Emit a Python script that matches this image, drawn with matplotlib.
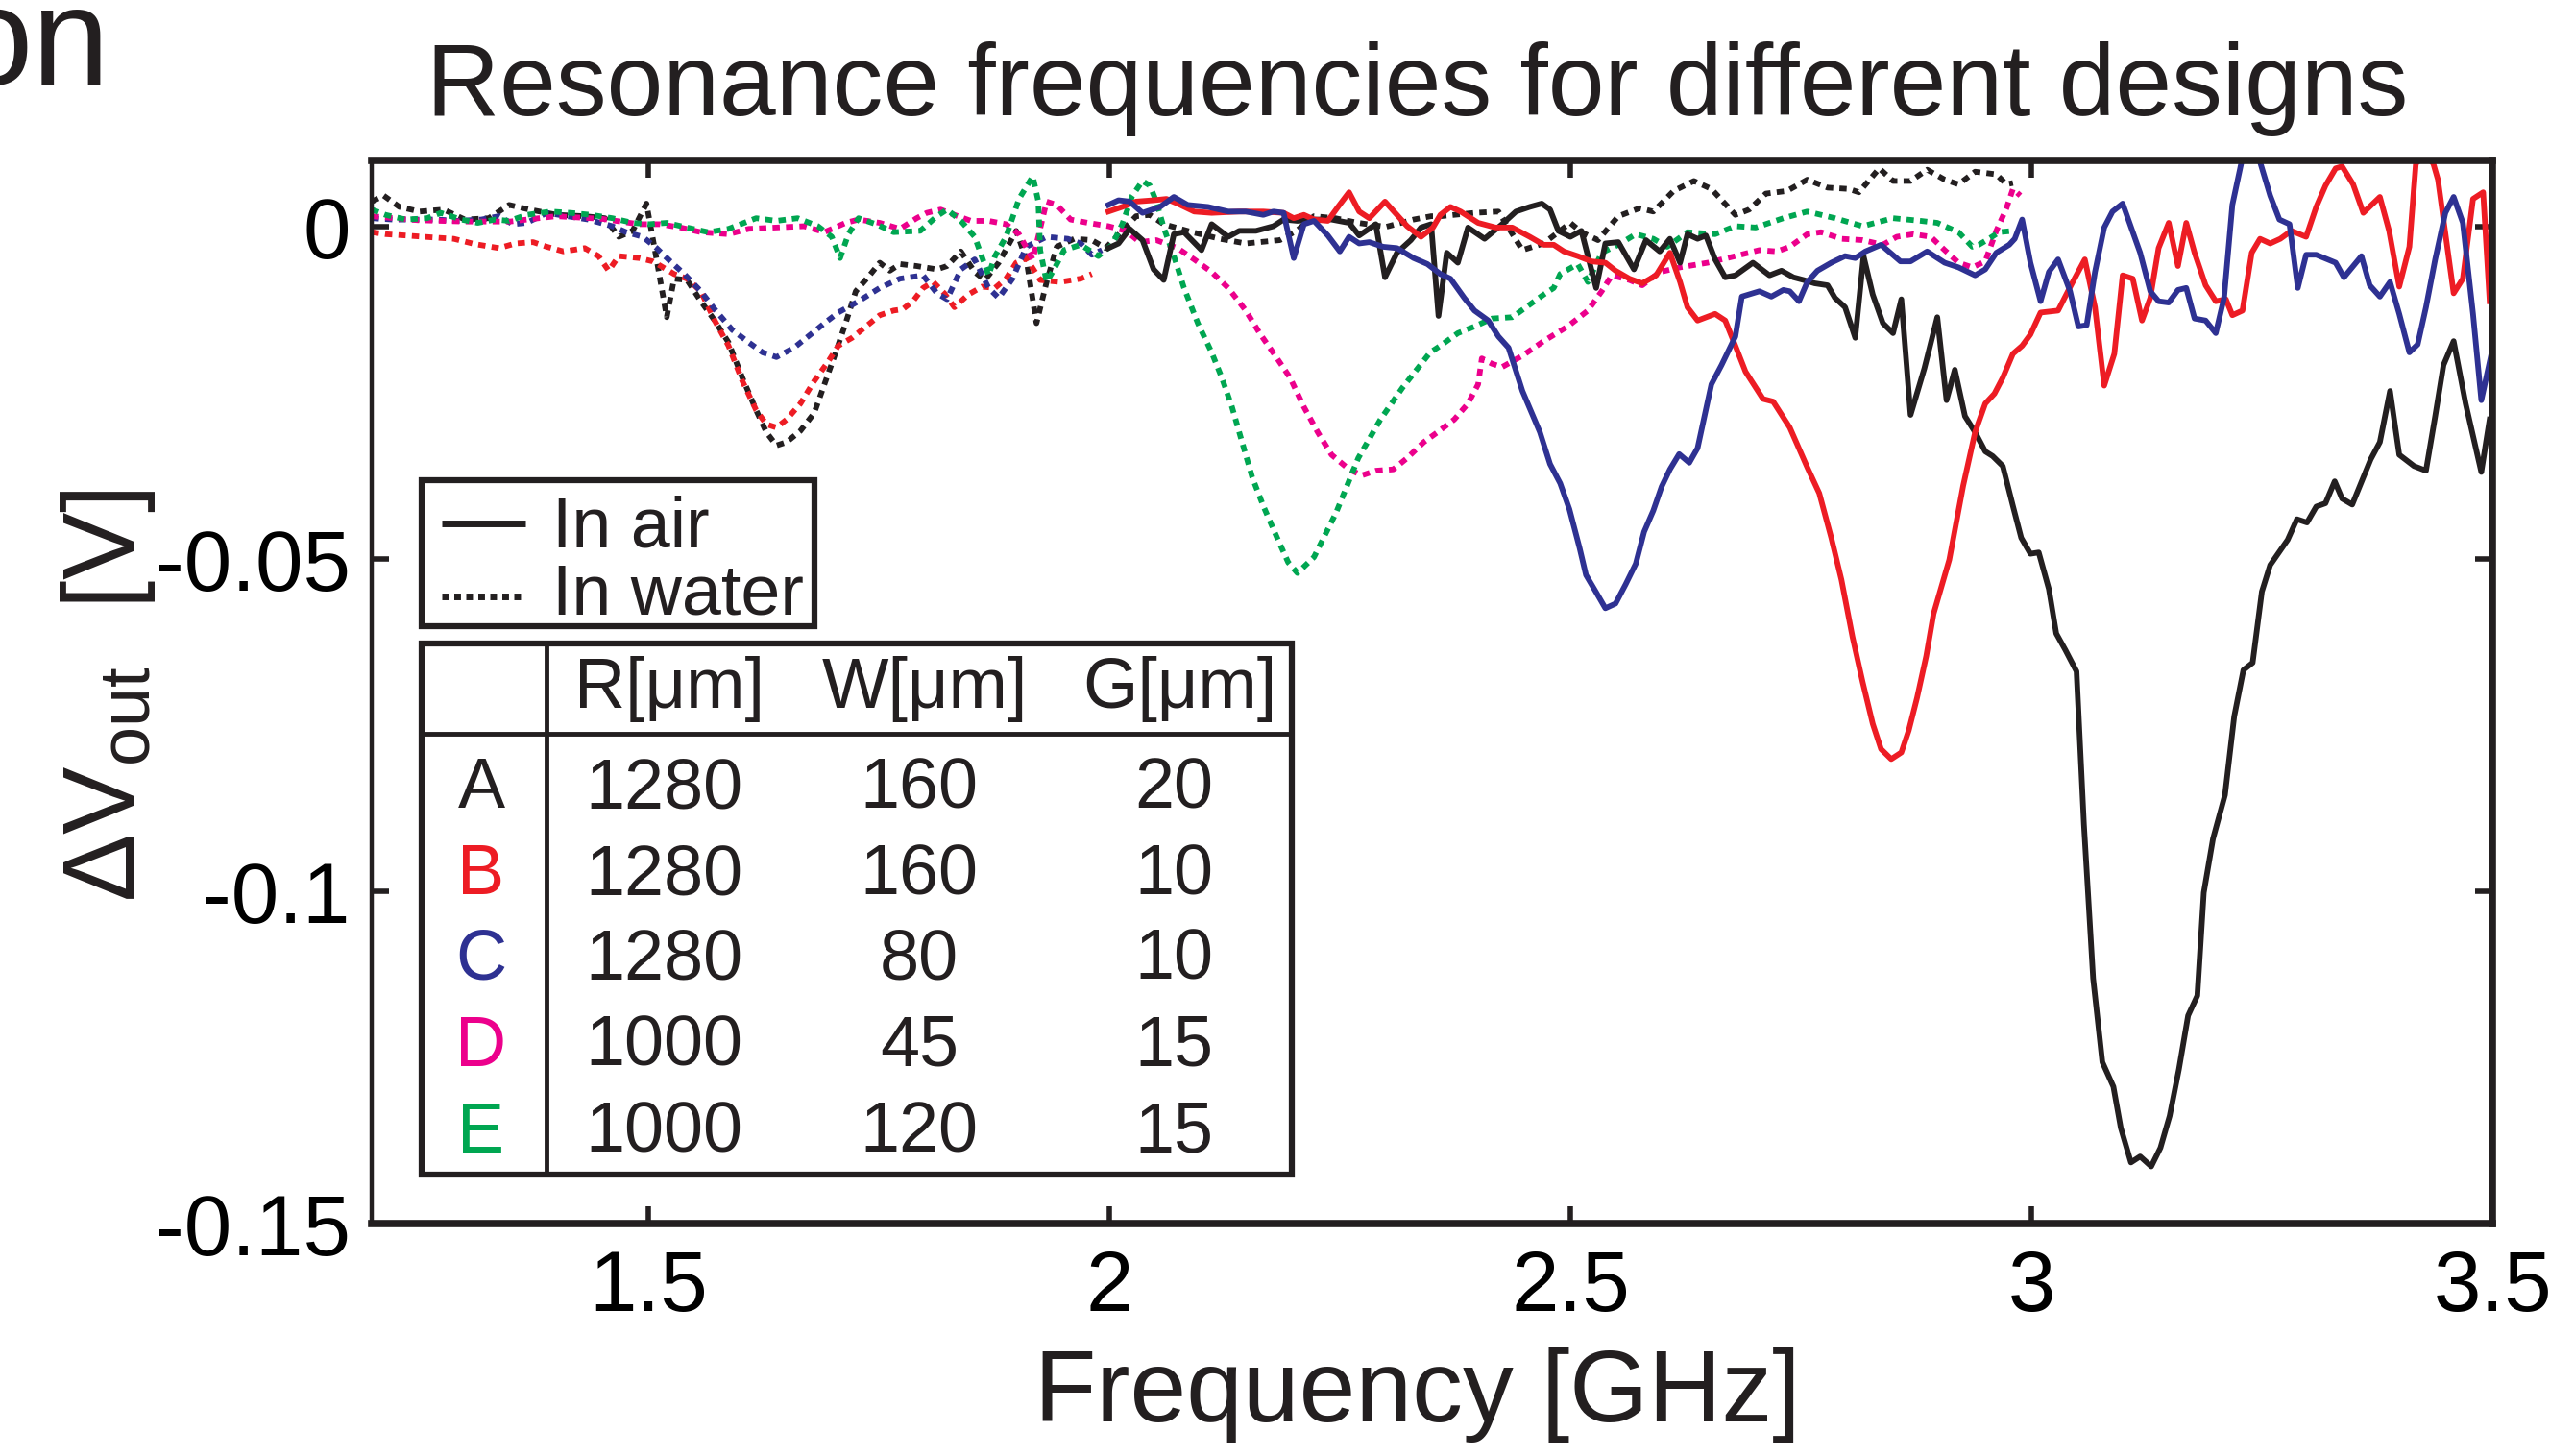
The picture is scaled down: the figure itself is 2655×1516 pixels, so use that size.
import numpy as np
import matplotlib
matplotlib.use('Agg')
import matplotlib.pyplot as plt
from matplotlib.patches import Rectangle

plt.rcParams['font.family'] = ['Liberation Sans', 'DejaVu Sans']
plt.rcParams['mathtext.fontset'] = 'custom'
plt.rcParams['mathtext.rm'] = 'Liberation Sans'
plt.rcParams['mathtext.default'] = 'regular'

# (frequency GHz, delta Vout mV)
a_water = [(1.200, 3.8), (1.213, 4.7), (1.230, 3.0), (1.252, 2.3), (1.278, 2.6), (1.301, 1.1), (1.327, 1.3),
           (1.349, 3.3), (1.371, 2.6), (1.401, 1.8), (1.431, 1.6), (1.453, 1.3), (1.468, -1.5), (1.483, -0.6),
           (1.498, 3.5), (1.509, -4.9), (1.520, -13.6), (1.528, -7.8), (1.542, -8.0), (1.557, -11.2),
           (1.572, -14.1), (1.587, -17.4), (1.602, -22.7), (1.617, -27.6), (1.628, -30.9), (1.639, -32.9),
           (1.650, -32.4), (1.665, -30.7), (1.680, -28.0), (1.691, -23.7), (1.702, -19.4), (1.714, -14.5),
           (1.725, -9.7), (1.740, -7.3), (1.751, -5.4), (1.762, -6.6), (1.773, -5.6), (1.791, -5.9),
           (1.813, -6.4), (1.824, -5.9), (1.839, -3.7), (1.854, -6.8), (1.865, -8.0), (1.880, -5.4),
           (1.899, -0.6), (1.910, -4.9), (1.921, -14.5), (1.932, -8.3), (1.943, -3.0), (1.962, -1.8),
           (1.981, -2.0), (1.996, -3.2), (2.014, -0.6), (2.029, 1.6), (2.044, 1.8), (2.059, 0.4), (2.090, -0.8),
           (2.120, -1.8), (2.148, -2.5), (2.185, -2.0), (2.204, -0.5), (2.222, 1.6), (2.245, 1.3), (2.270, 0.6),
           (2.300, 0.0), (2.330, 1.1), (2.349, 1.6), (2.359, 1.6), (2.396, 2.1), (2.422, 2.3), (2.448, -3.5),
           (2.471, -2.5), (2.500, 0.6), (2.512, -0.8), (2.530, -2.0), (2.552, 1.6), (2.575, 2.8), (2.590, 2.3),
           (2.612, 5.4), (2.634, 6.9), (2.653, 5.7), (2.679, 1.8), (2.694, 2.6), (2.712, 5.0), (2.735, 5.4),
           (2.757, 7.1), (2.779, 5.9), (2.802, 5.7), (2.813, 5.2), (2.835, 8.8), (2.850, 6.9), (2.869, 6.9),
           (2.887, 8.6), (2.906, 7.1), (2.921, 6.4), (2.939, 8.3), (2.962, 7.9), (2.973, 6.4), (2.980, 6.6)]

b_water = [(1.200, -0.8), (1.215, -1.1), (1.237, -1.3), (1.267, -1.6), (1.289, -1.8), (1.312, -2.6),
           (1.338, -3.2), (1.356, -2.5), (1.375, -2.3), (1.390, -3.0), (1.408, -3.7), (1.431, -3.2),
           (1.446, -4.4), (1.457, -6.6), (1.468, -4.4), (1.490, -4.7), (1.505, -5.2), (1.516, -6.1),
           (1.528, -7.1), (1.542, -7.8), (1.557, -9.7), (1.572, -14.1), (1.587, -17.9), (1.602, -23.2),
           (1.617, -27.6), (1.628, -29.7), (1.639, -30.2), (1.650, -29.0), (1.665, -26.6), (1.680, -23.2),
           (1.695, -20.3), (1.706, -17.9), (1.721, -16.7), (1.736, -15.0), (1.751, -13.3), (1.766, -12.6),
           (1.776, -12.4), (1.787, -11.2), (1.798, -9.2), (1.809, -8.3), (1.821, -10.0), (1.832, -12.1),
           (1.847, -10.2), (1.862, -9.0), (1.876, -9.2), (1.888, -7.8), (1.899, -5.4), (1.910, -4.7),
           (1.925, -8.0), (1.947, -8.3), (1.969, -7.8), (1.981, -7.1)]

c_water = [(1.200, 1.3), (1.223, 1.1), (1.249, 1.1), (1.271, 1.1), (1.293, 0.9), (1.319, 1.1), (1.338, 1.6),
           (1.353, 0.4), (1.368, 0.6), (1.390, 2.1), (1.412, 1.6), (1.435, 1.1), (1.461, 0.1), (1.476, -0.8),
           (1.494, -1.5), (1.509, -3.2), (1.524, -5.2), (1.539, -7.1), (1.557, -9.7), (1.572, -12.4),
           (1.591, -15.5), (1.609, -17.4), (1.624, -18.9), (1.639, -19.6), (1.658, -18.2), (1.676, -16.2),
           (1.691, -14.5), (1.706, -12.9), (1.728, -11.2), (1.751, -9.2), (1.773, -7.8), (1.798, -7.3),
           (1.813, -10.0), (1.824, -10.9), (1.839, -6.4), (1.854, -4.9), (1.869, -9.2), (1.880, -10.7),
           (1.895, -7.8), (1.910, -3.0), (1.932, -1.5), (1.955, -1.8), (1.969, -2.5), (1.981, -4.2),
           (1.992, -3.5)]

d_water = [(1.200, 1.6), (1.250, 1.0), (1.300, 0.8), (1.350, 0.8), (1.400, 1.6), (1.450, 1.2), (1.490, 0.4),
           (1.513, 0.4), (1.535, -0.1), (1.557, -0.8), (1.587, -1.1), (1.609, -0.3), (1.639, -0.1), (1.669, 0.1),
           (1.691, -0.8), (1.714, 0.6), (1.728, 1.1), (1.751, 0.6), (1.773, -0.3), (1.791, 1.3), (1.802, 2.1),
           (1.817, 2.6), (1.832, 1.8), (1.850, 0.9), (1.869, 0.9), (1.888, 0.4), (1.902, -1.1), (1.917, -4.9),
           (1.932, 3.8), (1.943, 3.3), (1.958, 1.1), (1.977, 0.6), (1.999, 0.1), (2.018, -0.6), (2.033, -2.3),
           (2.051, -2.0), (2.074, -3.2), (2.092, -4.9), (2.111, -6.8), (2.129, -9.2), (2.148, -12.6),
           (2.163, -16.0), (2.182, -19.8), (2.196, -22.7), (2.211, -27.1), (2.226, -30.9), (2.241, -34.3),
           (2.260, -36.5), (2.274, -37.4), (2.289, -36.7), (2.308, -36.5), (2.323, -34.8), (2.341, -32.4),
           (2.356, -30.9), (2.374, -29.0), (2.389, -26.6), (2.400, -23.7), (2.404, -19.8), (2.415, -20.6),
           (2.426, -21.1), (2.448, -19.4), (2.471, -17.2), (2.497, -15.0), (2.519, -12.6), (2.534, -9.7),
           (2.545, -7.3), (2.564, -8.0), (2.578, -8.8), (2.597, -6.8), (2.619, -6.1), (2.649, -5.4),
           (2.679, -4.4), (2.705, -3.5), (2.724, -3.7), (2.738, -3.0), (2.757, -1.1), (2.772, -0.8),
           (2.794, -1.8), (2.817, -2.0), (2.839, -2.7), (2.854, -1.5), (2.872, -1.1), (2.891, -1.5),
           (2.906, -3.5), (2.921, -5.4), (2.936, -6.1), (2.950, -5.2), (2.962, -0.6), (2.973, 2.8),
           (2.980, 5.7), (2.988, 4.7)]

e_water = [(1.200, 2.6), (1.215, 1.8), (1.237, 1.1), (1.260, 1.3), (1.275, 2.1), (1.297, 1.1), (1.315, 0.6),
           (1.334, 1.1), (1.349, 0.9), (1.368, 1.8), (1.394, 2.3), (1.416, 2.1), (1.438, 1.8), (1.461, 1.3),
           (1.483, 0.6), (1.501, 0.4), (1.520, 0.6), (1.542, -0.1), (1.565, -0.8), (1.587, -0.3), (1.617, 1.3),
           (1.639, 0.9), (1.662, 1.3), (1.684, 0.1), (1.699, -1.5), (1.708, -4.7), (1.717, -1.1), (1.728, 1.3),
           (1.747, 0.4), (1.766, -0.8), (1.795, -0.6), (1.813, 1.6), (1.824, 2.6), (1.839, 0.9), (1.854, -1.5),
           (1.869, -7.3), (1.876, -4.4), (1.888, -1.5), (1.902, 4.2), (1.917, 7.6), (1.923, 3.8), (1.925, -3.5),
           (1.932, -8.3), (1.940, -6.4), (1.951, -3.5), (1.969, -2.7), (1.988, -4.4), (2.003, -2.7),
           (2.014, 0.4), (2.025, 4.7), (2.036, 6.9), (2.044, 6.2), (2.051, 3.8), (2.059, -0.1), (2.070, -4.4),
           (2.081, -9.2), (2.096, -14.5), (2.111, -18.9), (2.122, -22.7), (2.133, -27.1), (2.144, -32.4),
           (2.155, -37.7), (2.167, -42.0), (2.182, -46.8), (2.194, -50.5), (2.204, -52.1), (2.222, -49.7),
           (2.246, -43.0), (2.270, -34.8), (2.294, -29.0), (2.318, -24.2), (2.348, -18.9), (2.359, -17.9),
           (2.378, -16.0), (2.396, -15.0), (2.415, -13.8), (2.437, -13.6), (2.452, -12.1), (2.471, -10.2),
           (2.482, -9.2), (2.489, -7.1), (2.508, -5.6), (2.519, -8.3), (2.534, -3.9), (2.552, -2.7),
           (2.571, -1.1), (2.590, -1.8), (2.605, -3.0), (2.627, -0.8), (2.657, -1.1), (2.679, 0.1),
           (2.701, -0.1), (2.731, 1.3), (2.757, 2.3), (2.787, 1.3), (2.817, 0.1), (2.850, 1.3), (2.880, 0.9),
           (2.898, 0.6), (2.921, -0.8), (2.936, -3.0), (2.943, -2.7), (2.954, -1.8), (2.965, -0.8), (2.980, -0.6)]

a_air = [(1.999, -3.2), (2.010, -2.5), (2.022, -0.3), (2.036, -2.0), (2.048, -6.4), (2.059, -8.0), (2.070, -1.1),
         (2.081, -0.8), (2.100, -3.5), (2.111, 0.4), (2.129, -1.5), (2.141, -0.6), (2.159, -0.6), (2.178, 0.1),
         (2.189, 1.1), (2.204, 0.9), (2.222, 1.1), (2.241, 1.1), (2.260, 0.6), (2.271, -1.3), (2.289, 0.4),
         (2.299, -7.6), (2.312, -3.9), (2.327, -2.0), (2.338, -0.1), (2.349, 0.4), (2.357, -13.4), (2.366, -3.9),
         (2.378, -5.4), (2.389, -0.1), (2.407, -1.8), (2.426, 0.4), (2.441, 2.3), (2.456, 3.0), (2.469, 3.5),
         (2.478, 2.6), (2.487, -0.6), (2.500, -1.5), (2.512, -0.6), (2.528, -9.2), (2.538, -2.5), (2.552, -2.3),
         (2.569, -6.4), (2.582, -2.0), (2.597, -3.7), (2.608, -1.8), (2.619, -5.4), (2.627, -1.1), (2.638, -1.8),
         (2.647, -1.3), (2.657, -4.9), (2.668, -7.6), (2.679, -7.3), (2.698, -5.4), (2.716, -7.3), (2.729, -6.6),
         (2.742, -7.6), (2.753, -8.0), (2.765, -8.5), (2.779, -8.8), (2.787, -10.7), (2.798, -12.1),
         (2.809, -16.7), (2.818, -4.4), (2.828, -10.2), (2.839, -14.5), (2.850, -16.0), (2.859, -10.9),
         (2.869, -28.3), (2.884, -21.3), (2.898, -13.6), (2.908, -26.1), (2.917, -21.5), (2.928, -28.5),
         (2.939, -30.9), (2.950, -33.8), (2.958, -34.5), (2.969, -36.0), (2.980, -42.0), (2.989, -46.8),
         (2.999, -49.2), (3.008, -49.0), (3.019, -54.5), (3.027, -61.2), (3.037, -63.7), (3.049, -66.9),
         (3.057, -89.9), (3.067, -113.1), (3.077, -125.7), (3.089, -129.4), (3.097, -135.6), (3.108, -140.8),
         (3.118, -139.9), (3.130, -141.4), (3.140, -138.6), (3.150, -133.8), (3.160, -126.8), (3.170, -118.7),
         (3.180, -115.7), (3.187, -100.2), (3.197, -92.1), (3.210, -85.5), (3.220, -73.7), (3.230, -66.7),
         (3.240, -65.6), (3.250, -54.9), (3.259, -50.9), (3.278, -47.1), (3.288, -44.0), (3.299, -44.5),
         (3.309, -42.1), (3.319, -41.6), (3.329, -38.3), (3.337, -40.9), (3.348, -41.8), (3.368, -35.0),
         (3.378, -32.4), (3.389, -24.7), (3.399, -34.3), (3.415, -36.0), (3.428, -36.7), (3.438, -28.5),
         (3.447, -20.8), (3.458, -17.2), (3.471, -26.6), (3.488, -36.9), (3.497, -29.0)]

b_air = [(1.999, 2.3), (2.014, 3.0), (2.029, 3.8), (2.048, 4.0), (2.062, 4.2), (2.074, 3.5), (2.092, 2.3),
         (2.111, 2.1), (2.141, 2.3), (2.167, 2.3), (2.189, 2.1), (2.200, 1.3), (2.211, 1.8), (2.222, 1.1),
         (2.237, 0.9), (2.248, 3.0), (2.260, 5.2), (2.271, 2.3), (2.282, 1.3), (2.299, 3.8), (2.312, 1.8),
         (2.323, 0.1), (2.338, -1.5), (2.351, -0.1), (2.359, 1.8), (2.370, 3.0), (2.381, 2.3), (2.400, 0.6),
         (2.419, -0.1), (2.437, -0.1), (2.456, -1.5), (2.471, -2.7), (2.482, -2.7), (2.493, -3.7),
         (2.508, -4.4), (2.523, -5.2), (2.538, -5.4), (2.549, -6.6), (2.564, -7.8), (2.578, -8.5),
         (2.593, -7.3), (2.608, -3.9), (2.619, -8.3), (2.627, -12.1), (2.638, -14.1), (2.657, -13.1),
         (2.668, -14.1), (2.679, -17.9), (2.690, -21.8), (2.709, -25.9), (2.720, -26.3), (2.738, -30.2),
         (2.757, -36.2), (2.770, -40.1), (2.783, -46.8), (2.794, -53.1), (2.806, -61.7), (2.817, -68.5),
         (2.828, -74.8), (2.837, -78.6), (2.848, -80.1), (2.859, -79.1), (2.867, -75.8), (2.876, -70.9),
         (2.886, -64.6), (2.894, -58.2), (2.911, -50.1), (2.926, -39.0), (2.939, -30.9), (2.950, -26.6),
         (2.960, -25.1), (2.969, -22.7), (2.980, -19.1), (2.990, -17.9), (2.999, -16.2), (3.010, -12.9),
         (3.029, -12.6), (3.043, -8.8), (3.058, -4.9), (3.069, -12.1), (3.079, -23.9), (3.090, -19.1),
         (3.099, -7.3), (3.110, -7.8), (3.120, -14.1), (3.129, -10.7), (3.138, -3.2), (3.149, 0.6),
         (3.159, -5.9), (3.168, 0.6), (3.177, -3.9), (3.189, -8.8), (3.200, -11.2), (3.211, -10.9),
         (3.218, -13.3), (3.229, -12.6), (3.239, -3.9), (3.248, -1.8), (3.259, -2.5), (3.270, -1.8),
         (3.282, -0.6), (3.298, -1.5), (3.309, 3.0), (3.319, 6.2), (3.330, 8.8), (3.337, 9.1), (3.349, 6.4),
         (3.360, 2.1), (3.378, 4.5), (3.388, -0.6), (3.399, -9.0), (3.410, -3.0), (3.417, 9.5), (3.427, 11.0),
         (3.436, 9.5), (3.441, 7.1), (3.458, -10.0), (3.468, -7.8), (3.479, 4.2), (3.490, 5.2), (3.497, -11.2)]

c_air = [(1.999, 3.3), (2.010, 4.0), (2.022, 3.8), (2.036, 2.1), (2.055, 3.0), (2.070, 4.5), (2.085, 3.3),
         (2.107, 3.0), (2.129, 2.3), (2.148, 2.3), (2.167, 1.8), (2.178, 2.3), (2.189, 2.1), (2.200, -4.7),
         (2.211, 0.4), (2.222, 0.9), (2.237, -1.3), (2.250, -3.7), (2.260, -1.5), (2.271, -2.5), (2.282, -2.3),
         (2.297, -3.0), (2.312, -3.2), (2.330, -4.7), (2.345, -5.6), (2.359, -7.1), (2.370, -7.8),
         (2.385, -10.7), (2.396, -12.6), (2.411, -14.1), (2.422, -16.5), (2.433, -18.2), (2.448, -24.7),
         (2.467, -30.9), (2.478, -35.7), (2.489, -38.6), (2.499, -42.5), (2.510, -48.3), (2.517, -52.4),
         (2.528, -55.0), (2.538, -57.4), (2.549, -56.7), (2.560, -53.8), (2.571, -50.7), (2.580, -45.9),
         (2.590, -42.7), (2.599, -39.1), (2.608, -36.5), (2.618, -34.2), (2.629, -35.5), (2.638, -33.3),
         (2.653, -23.7), (2.664, -20.8), (2.679, -16.5), (2.686, -10.5), (2.705, -9.7), (2.718, -10.5),
         (2.731, -9.5), (2.738, -9.7), (2.748, -11.2), (2.757, -8.3), (2.768, -6.6), (2.783, -5.4),
         (2.798, -4.4), (2.809, -4.7), (2.820, -3.7), (2.837, -2.7), (2.858, -5.2), (2.869, -5.2),
         (2.887, -3.7), (2.906, -5.4), (2.921, -6.1), (2.939, -7.3), (2.950, -6.4), (2.962, -3.9),
         (2.976, -2.7), (2.982, -1.8), (2.990, 1.1), (2.999, -5.4), (3.010, -11.2), (3.019, -6.8),
         (3.029, -4.9), (3.042, -9.7), (3.051, -15.0), (3.060, -14.8), (3.069, -6.8), (3.079, -0.1),
         (3.088, 2.3), (3.099, 3.5), (3.118, -3.9), (3.129, -9.7), (3.138, -11.2), (3.149, -11.4),
         (3.159, -9.5), (3.168, -9.2), (3.177, -13.8), (3.189, -14.1), (3.200, -16.0), (3.209, -10.7),
         (3.218, 3.3), (3.228, 9.8), (3.237, 12.0), (3.248, 9.8), (3.259, 4.7), (3.269, 1.1), (3.280, 0.4),
         (3.289, -9.2), (3.298, -4.2), (3.309, -4.2), (3.330, -5.4), (3.339, -7.6), (3.358, -4.4),
         (3.367, -8.8), (3.378, -10.5), (3.389, -8.3), (3.399, -13.1), (3.410, -18.9), (3.419, -17.7),
         (3.428, -12.1), (3.438, -4.9), (3.449, 2.1), (3.458, 4.5), (3.468, 0.6), (3.479, -13.1),
         (3.488, -26.1), (3.499, -19.1)]

designs = ['A', 'B', 'C', 'D', 'E']
r_um = ['1280', '1280', '1280', '1000', '1000']
w_um = ['160', '160', '80', '45', '120']
g_um = ['20', '10', '10', '15', '15']
colors = ['#231f20', '#ed1c24', '#2e3192', '#ec008c', '#00a651']

xticks = [1.5, 2, 2.5, 3, 3.5]
xticklabels = ['1.5', '2', '2.5', '3', '3.5']
yticks = [0, -0.05, -0.1, -0.15]
yticklabels = ['0', '-0.05', '-0.1', '-0.15']

W, H = 2655, 1516
fig = plt.figure(figsize=(W / 100, H / 100), dpi=100)
ax = fig.add_axes([387 / W, 1 - 1274 / H, (2595 - 387) / W, (1274 - 167) / H])

dots = (0, (1.3, 1.1))
for pts, c in zip([a_water, b_water, c_water, d_water, e_water], colors):
    f, mv = zip(*pts)
    ax.plot(f, np.array(mv) / 1000, color=c, lw=4.2, ls=dots, dash_capstyle='butt')
for pts, c in zip([a_air, b_air, c_air], colors):
    f, mv = zip(*pts)
    ax.plot(f, np.array(mv) / 1000, color=c, lw=4.2)

ax.set_xlim(1.2, 3.5)
ax.set_ylim(-0.15, 0.01)
ax.set_xticks(xticks)
ax.set_xticklabels(xticklabels)
ax.set_yticks(yticks)
ax.set_yticklabels(yticklabels)
ax.tick_params(axis='both', direction='in', length=13, width=4, color='#231f20',
               labelsize=64, top=True, right=True)
ax.tick_params(axis='x', pad=19)
ax.tick_params(axis='y', pad=16)
for side in ['top', 'bottom', 'right']:
    ax.spines[side].set_linewidth(5.5)
ax.spines['left'].set_linewidth(3.2)
for s in ax.spines.values():
    s.set_color('#231f20')

# overlay in pixel coordinates for texts, legend box and table
ov = fig.add_axes([0, 0, 1, 1])
ov.set_xlim(0, W)
ov.set_ylim(H, 0)
ov.set_axis_off()

ov.text(115, 88, 'on', fontsize=104, ha='right', va='baseline', color='#231f20')
ov.text(1476, 120, 'Resonance frequencies for different designs', fontsize=76,
        ha='center', va='baseline', color='#231f20')
ov.text(1476, 1480, 'Frequency [GHz]', fontsize=76, ha='center', va='baseline', color='#231f20')
ov.text(112, 724, 'ΔV$_{out}$  [V]', fontsize=76, rotation=90, ha='center', va='center',
        color='#231f20')

# legend
ov.add_patch(Rectangle((439, 500), 409, 152, fill=True, fc='white', ec='#231f20', lw=4.5))
ov.plot([460, 547], [545, 545], color='#231f20', lw=5, solid_capstyle='butt')
ov.plot([460, 547], [621, 621], color='#231f20', lw=5, ls=(0, (1.0, 0.8)), dash_capstyle='butt')
ov.text(575, 569, 'In air', fontsize=53, ha='left', va='baseline', color='#231f20')
ov.text(575, 640, 'In water', fontsize=53, ha='left', va='baseline', color='#231f20')

# parameter table
ov.add_patch(Rectangle((439, 670), 906, 553, fill=True, fc='white', ec='#231f20', lw=4.5))
ov.plot([569, 569], [670, 1223], color='#231f20', lw=3.5)
ov.plot([439, 1345], [764, 764], color='#231f20', lw=3.5)
col_x = [691, 957, 1222]
for x, h in zip(col_x, ['R[μm]', 'W[μm]', 'G[μm]']):
    ov.text(x + 6, 737, h, fontsize=53, ha='center', va='baseline', color='#231f20')
row_y = [841, 931, 1020, 1110, 1200]
for y, d, r, w, g, c in zip(row_y, designs, r_um, w_um, g_um, colors):
    ov.text(501, y, d, fontsize=53, ha='center', va='baseline', color=c)
    for x, v in zip(col_x, [r, w, g]):
        ov.text(x, y, v, fontsize=53, ha='center', va='baseline', color='#231f20')

fig.savefig('out.png', dpi=100)
